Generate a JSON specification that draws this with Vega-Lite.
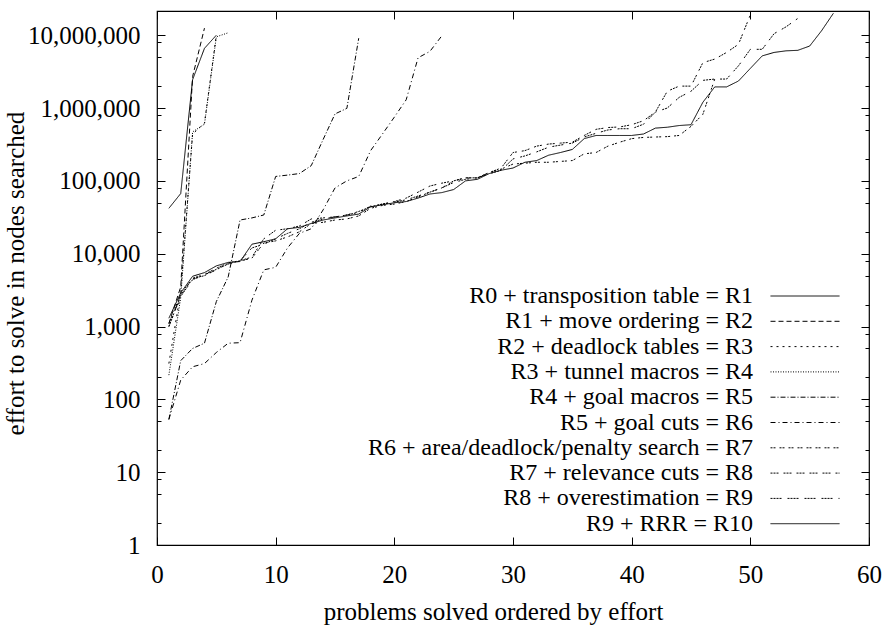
{
  "$schema": "https://vega.github.io/schema/vega-lite/v6.json",
  "width": 712,
  "height": 534,
  "autosize": "none",
  "padding": {"left": 157, "top": 11, "right": 20, "bottom": 82},
  "background": "white",
  "config": {
    "view": {"stroke": "#000", "strokeWidth": 1.2},
    "font": "Liberation Serif",
    "axis": {"domain": false, "grid": false, "tickColor": "#000", "tickWidth": 1, "labelColor": "#000", "labelFont": "Liberation Serif", "labelFontSize": 25, "titleFont": "Liberation Serif", "titleFontSize": 25, "titleFontWeight": "normal", "titleColor": "#000"}
  },
  "data": {"values": [
    {"s":"R1","x":1,"y":42000},{"s":"R1","x":2,"y":67000},{"s":"R1","x":3,"y":2450000},{"s":"R1","x":4,"y":6600000},{"s":"R1","x":5,"y":10000000},
    {"s":"R2","x":1,"y":1100},{"s":"R2","x":2,"y":3500},{"s":"R2","x":3,"y":2700000},{"s":"R2","x":4,"y":12500000},
    {"s":"R3","x":1,"y":310},{"s":"R3","x":2,"y":3000},{"s":"R3","x":3,"y":440000},{"s":"R3","x":4,"y":620000},{"s":"R3","x":5,"y":10000000},
    {"s":"R4","x":1,"y":215},{"s":"R4","x":2,"y":2500},{"s":"R4","x":3,"y":470000},{"s":"R4","x":4,"y":600000},{"s":"R4","x":5,"y":9500000},{"s":"R4","x":6,"y":10800000},
    {"s":"R5","x":1,"y":53},{"s":"R5","x":2,"y":340},{"s":"R5","x":3,"y":500},{"s":"R5","x":4,"y":590},{"s":"R5","x":5,"y":2200},{"s":"R5","x":6,"y":4800},{"s":"R5","x":7,"y":29000},{"s":"R5","x":8,"y":31000},{"s":"R5","x":9,"y":34000},{"s":"R5","x":10,"y":115000},{"s":"R5","x":11,"y":120000},{"s":"R5","x":12,"y":126000},{"s":"R5","x":13,"y":162000},{"s":"R5","x":14,"y":370000},{"s":"R5","x":15,"y":830000},{"s":"R5","x":16,"y":990000},{"s":"R5","x":17,"y":9100000},
    {"s":"R6","x":1,"y":53},{"s":"R6","x":2,"y":184},{"s":"R6","x":3,"y":280},{"s":"R6","x":4,"y":310},{"s":"R6","x":5,"y":440},{"s":"R6","x":6,"y":590},{"s":"R6","x":7,"y":600},{"s":"R6","x":8,"y":2300},{"s":"R6","x":9,"y":6000},{"s":"R6","x":10,"y":6500},{"s":"R6","x":11,"y":12000},{"s":"R6","x":12,"y":19000},{"s":"R6","x":13,"y":22000},{"s":"R6","x":14,"y":40000},{"s":"R6","x":15,"y":80000},{"s":"R6","x":16,"y":100000},{"s":"R6","x":17,"y":115000},{"s":"R6","x":18,"y":260000},{"s":"R6","x":19,"y":440000},{"s":"R6","x":20,"y":750000},{"s":"R6","x":21,"y":1300000},{"s":"R6","x":22,"y":4900000},{"s":"R6","x":23,"y":6000000},{"s":"R6","x":24,"y":9800000},
    {"s":"R7","x":1,"y":1000},{"s":"R7","x":2,"y":2700},{"s":"R7","x":3,"y":4500},{"s":"R7","x":4,"y":5000},{"s":"R7","x":5,"y":6000},{"s":"R7","x":6,"y":7400},{"s":"R7","x":7,"y":7900},{"s":"R7","x":8,"y":8700},{"s":"R7","x":9,"y":14000},{"s":"R7","x":10,"y":15000},{"s":"R7","x":11,"y":17000},{"s":"R7","x":12,"y":20000},{"s":"R7","x":13,"y":26000},{"s":"R7","x":14,"y":27000},{"s":"R7","x":15,"y":29000},{"s":"R7","x":16,"y":30000},{"s":"R7","x":17,"y":33000},{"s":"R7","x":18,"y":42000},{"s":"R7","x":19,"y":46000},{"s":"R7","x":20,"y":48000},{"s":"R7","x":21,"y":52000},{"s":"R7","x":22,"y":60000},{"s":"R7","x":23,"y":70000},{"s":"R7","x":24,"y":80000},{"s":"R7","x":25,"y":100000},{"s":"R7","x":26,"y":110000},{"s":"R7","x":27,"y":110000},{"s":"R7","x":28,"y":130000},{"s":"R7","x":29,"y":145000},{"s":"R7","x":30,"y":170000},{"s":"R7","x":31,"y":175000},{"s":"R7","x":32,"y":180000},{"s":"R7","x":33,"y":180000},{"s":"R7","x":34,"y":185000},{"s":"R7","x":35,"y":190000},{"s":"R7","x":36,"y":235000},{"s":"R7","x":37,"y":245000},{"s":"R7","x":38,"y":300000},{"s":"R7","x":39,"y":340000},{"s":"R7","x":40,"y":380000},{"s":"R7","x":41,"y":395000},{"s":"R7","x":42,"y":400000},{"s":"R7","x":43,"y":405000},{"s":"R7","x":44,"y":420000},{"s":"R7","x":45,"y":560000},{"s":"R7","x":46,"y":820000},{"s":"R7","x":47,"y":2500000},
    {"s":"R8","x":1,"y":1100},{"s":"R8","x":2,"y":2800},{"s":"R8","x":3,"y":4600},{"s":"R8","x":4,"y":5200},{"s":"R8","x":5,"y":6300},{"s":"R8","x":6,"y":7500},{"s":"R8","x":7,"y":8000},{"s":"R8","x":8,"y":9000},{"s":"R8","x":9,"y":16000},{"s":"R8","x":10,"y":21000},{"s":"R8","x":11,"y":22000},{"s":"R8","x":12,"y":24000},{"s":"R8","x":13,"y":30000},{"s":"R8","x":14,"y":31000},{"s":"R8","x":15,"y":32000},{"s":"R8","x":16,"y":34000},{"s":"R8","x":17,"y":38000},{"s":"R8","x":18,"y":44000},{"s":"R8","x":19,"y":48000},{"s":"R8","x":20,"y":52000},{"s":"R8","x":21,"y":58000},{"s":"R8","x":22,"y":70000},{"s":"R8","x":23,"y":85000},{"s":"R8","x":24,"y":93000},{"s":"R8","x":25,"y":100000},{"s":"R8","x":26,"y":110000},{"s":"R8","x":27,"y":110000},{"s":"R8","x":28,"y":130000},{"s":"R8","x":29,"y":150000},{"s":"R8","x":30,"y":245000},{"s":"R8","x":31,"y":260000},{"s":"R8","x":32,"y":300000},{"s":"R8","x":33,"y":320000},{"s":"R8","x":34,"y":330000},{"s":"R8","x":35,"y":340000},{"s":"R8","x":36,"y":420000},{"s":"R8","x":37,"y":510000},{"s":"R8","x":38,"y":540000},{"s":"R8","x":39,"y":550000},{"s":"R8","x":40,"y":590000},{"s":"R8","x":41,"y":670000},{"s":"R8","x":42,"y":880000},{"s":"R8","x":43,"y":1700000},{"s":"R8","x":44,"y":2000000},{"s":"R8","x":45,"y":2000000},{"s":"R8","x":46,"y":4200000},{"s":"R8","x":47,"y":4700000},{"s":"R8","x":48,"y":5800000},{"s":"R8","x":49,"y":7500000},{"s":"R8","x":50,"y":19000000},
    {"s":"R9","x":1,"y":1000},{"s":"R9","x":2,"y":2600},{"s":"R9","x":3,"y":4400},{"s":"R9","x":4,"y":5100},{"s":"R9","x":5,"y":6100},{"s":"R9","x":6,"y":7200},{"s":"R9","x":7,"y":8000},{"s":"R9","x":8,"y":12000},{"s":"R9","x":9,"y":13500},{"s":"R9","x":10,"y":16000},{"s":"R9","x":11,"y":19000},{"s":"R9","x":12,"y":22000},{"s":"R9","x":13,"y":27000},{"s":"R9","x":14,"y":30000},{"s":"R9","x":15,"y":32000},{"s":"R9","x":16,"y":34000},{"s":"R9","x":17,"y":37000},{"s":"R9","x":18,"y":45000},{"s":"R9","x":19,"y":48000},{"s":"R9","x":20,"y":51000},{"s":"R9","x":21,"y":55000},{"s":"R9","x":22,"y":62000},{"s":"R9","x":23,"y":70000},{"s":"R9","x":24,"y":80000},{"s":"R9","x":25,"y":95000},{"s":"R9","x":26,"y":105000},{"s":"R9","x":27,"y":110000},{"s":"R9","x":28,"y":125000},{"s":"R9","x":29,"y":140000},{"s":"R9","x":30,"y":200000},{"s":"R9","x":31,"y":220000},{"s":"R9","x":32,"y":250000},{"s":"R9","x":33,"y":290000},{"s":"R9","x":34,"y":310000},{"s":"R9","x":35,"y":330000},{"s":"R9","x":36,"y":400000},{"s":"R9","x":37,"y":450000},{"s":"R9","x":38,"y":500000},{"s":"R9","x":39,"y":520000},{"s":"R9","x":40,"y":520000},{"s":"R9","x":41,"y":600000},{"s":"R9","x":42,"y":880000},{"s":"R9","x":43,"y":1000000},{"s":"R9","x":44,"y":1400000},{"s":"R9","x":45,"y":1700000},{"s":"R9","x":46,"y":2400000},{"s":"R9","x":47,"y":2500000},{"s":"R9","x":48,"y":2500000},{"s":"R9","x":49,"y":3800000},{"s":"R9","x":50,"y":6400000},{"s":"R9","x":51,"y":6400000},{"s":"R9","x":52,"y":10500000},{"s":"R9","x":53,"y":13000000},{"s":"R9","x":54,"y":17000000},
    {"s":"R10","x":1,"y":1300},{"s":"R10","x":2,"y":2900},{"s":"R10","x":3,"y":4900},{"s":"R10","x":4,"y":5500},{"s":"R10","x":5,"y":6800},{"s":"R10","x":6,"y":7600},{"s":"R10","x":7,"y":7800},{"s":"R10","x":8,"y":13500},{"s":"R10","x":9,"y":14600},{"s":"R10","x":10,"y":16000},{"s":"R10","x":11,"y":22000},{"s":"R10","x":12,"y":23000},{"s":"R10","x":13,"y":26000},{"s":"R10","x":14,"y":29000},{"s":"R10","x":15,"y":31000},{"s":"R10","x":16,"y":33000},{"s":"R10","x":17,"y":35000},{"s":"R10","x":18,"y":44000},{"s":"R10","x":19,"y":47000},{"s":"R10","x":20,"y":50000},{"s":"R10","x":21,"y":52000},{"s":"R10","x":22,"y":58000},{"s":"R10","x":23,"y":66000},{"s":"R10","x":24,"y":69000},{"s":"R10","x":25,"y":76000},{"s":"R10","x":26,"y":100000},{"s":"R10","x":27,"y":105000},{"s":"R10","x":28,"y":126000},{"s":"R10","x":29,"y":140000},{"s":"R10","x":30,"y":150000},{"s":"R10","x":31,"y":180000},{"s":"R10","x":32,"y":190000},{"s":"R10","x":33,"y":225000},{"s":"R10","x":34,"y":245000},{"s":"R10","x":35,"y":270000},{"s":"R10","x":36,"y":380000},{"s":"R10","x":37,"y":420000},{"s":"R10","x":38,"y":420000},{"s":"R10","x":39,"y":420000},{"s":"R10","x":40,"y":420000},{"s":"R10","x":41,"y":440000},{"s":"R10","x":42,"y":530000},{"s":"R10","x":43,"y":545000},{"s":"R10","x":44,"y":575000},{"s":"R10","x":45,"y":590000},{"s":"R10","x":46,"y":1200000},{"s":"R10","x":47,"y":1950000},{"s":"R10","x":48,"y":1950000},{"s":"R10","x":49,"y":2350000},{"s":"R10","x":50,"y":3500000},{"s":"R10","x":51,"y":5200000},{"s":"R10","x":52,"y":5800000},{"s":"R10","x":53,"y":6100000},{"s":"R10","x":54,"y":6200000},{"s":"R10","x":55,"y":7100000},{"s":"R10","x":56,"y":11500000},{"s":"R10","x":57,"y":20000000}
  ]},
  "layer": [
    {
      "mark": {"type": "line", "strokeWidth": 1, "color": "#000", "clip": true},
      "encoding": {
        "x": {"field": "x", "type": "quantitative",
              "scale": {"domain": [0, 60], "nice": false, "zero": false},
              "axis": {"orient": "bottom", "values": [0,10,20,30,40,50,60], "format": "d", "tickSize": -8, "labelPadding": 25, "labelFlush": false, "labelOverlap": false,
                       "title": "problems solved ordered by effort", "titleX": 336, "titleY": 74, "titleAlign": "center", "titleBaseline": "alphabetic", "titleAnchor": null}},
        "y": {"field": "y", "type": "quantitative",
              "scale": {"type": "log", "domain": [1, 21500000], "nice": false},
              "axis": {"orient": "left", "values": [1,10,100,1000,10000,100000,1000000,10000000], "format": ",d", "tickSize": -8, "labelPadding": 25, "labelOverlap": false,
                       "title": "effort to solve in nodes searched", "titleX": -142, "titleY": 262, "titleAngle": -90, "titleAlign": "center", "titleBaseline": "middle", "titleAnchor": null}},
        "strokeDash": {"field": "s", "type": "nominal",
          "scale": {"domain": ["R1","R2","R3","R4","R5","R6","R7","R8","R9","R10"],
                    "range": [[1,0],[5,3],[2,4],[1,1.5],[5,2,1,2],[5,3,1,3],[2,1,2,4],[2,1,2,1,2,5],[2,1,2,1,2,1,2,6],[1,0]]},
          "legend": {"orient": "none", "legendX": 635.5, "legendY": 272.5, "title": null, "padding": 0,
                     "symbolType": "M-2.875,0L2.875,0", "symbolSize": 576, "symbolStrokeWidth": 1, "symbolStrokeColor": "#000", "symbolFillColor": "transparent",
                     "labelAlign": "right", "labelOffset": -64.5, "labelFont": "Liberation Serif", "labelFontSize": 24, "labelColor": "#000", "labelLimit": 700,
                     "rowPadding": 0.3,
                     "labelExpr": "datum.label == 'R1' ? 'R0 + transposition table = R1' : datum.label == 'R2' ? 'R1 + move ordering = R2' : datum.label == 'R3' ? 'R2 + deadlock tables = R3' : datum.label == 'R4' ? 'R3 + tunnel macros = R4' : datum.label == 'R5' ? 'R4 + goal macros = R5' : datum.label == 'R6' ? 'R5 + goal cuts = R6' : datum.label == 'R7' ? 'R6 + area/deadlock/penalty search = R7' : datum.label == 'R8' ? 'R7 + relevance cuts = R8' : datum.label == 'R9' ? 'R8 + overestimation = R9' : 'R9 + RRR = R10'"}}
      }
    },
    {
      "mark": {"type": "point", "opacity": 0},
      "encoding": {
        "x": {"field": "x", "type": "quantitative", "axis": {"orient": "top", "values": [0,10,20,30,40,50,60], "labels": false, "tickSize": -8, "title": null}},
        "y": {"field": "y", "type": "quantitative", "axis": {"orient": "right", "values": [1,10,100,1000,10000,100000,1000000,10000000], "labels": false, "tickSize": -8, "title": null}}
      }
    },
    {
      "mark": {"type": "point", "opacity": 0},
      "encoding": {
        "x": {"field": "x", "type": "quantitative", "axis": null},
        "y": {"field": "y", "type": "quantitative", "axis": {"orient": "left", "values": [2,5,8,20,50,80,200,500,800,2000,5000,8000,20000,50000,80000,200000,500000,800000,2000000,5000000,8000000], "labels": false, "tickSize": -4, "title": null}}
      }
    },
    {
      "mark": {"type": "point", "opacity": 0},
      "encoding": {
        "x": {"field": "x", "type": "quantitative", "axis": null},
        "y": {"field": "y", "type": "quantitative", "axis": {"orient": "right", "values": [2,5,8,20,50,80,200,500,800,2000,5000,8000,20000,50000,80000,200000,500000,800000,2000000,5000000,8000000], "labels": false, "tickSize": -4, "title": null}}
      }
    }
  ],
  "resolve": {"axis": {"x": "independent", "y": "independent"}}
}
